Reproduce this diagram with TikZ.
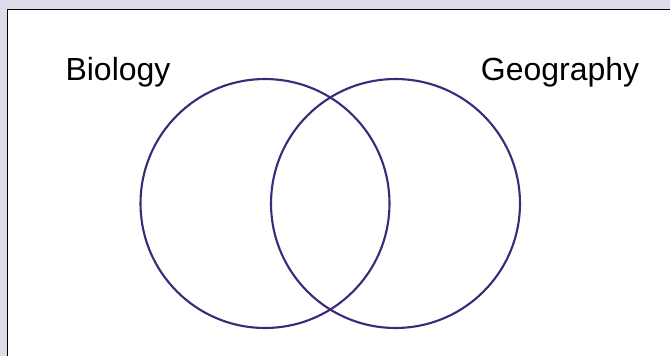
\documentclass[tikz,border=0pt]{standalone}
\usepackage{fontspec}
\setmainfont{Liberation Sans}
\usetikzlibrary{positioning}
\definecolor{vennpurple}{RGB}{62,40,122}
\definecolor{slidebg}{RGB}{224,219,235}

\begin{document}
\begin{tikzpicture}[
    x=0.02cm, y=-0.02cm,
    set/.style={draw=vennpurple, line width=1.2pt, circle, minimum size=4.98cm, inner sep=0pt},
    setlabel/.style={font=\fontsize{18.2}{22}\selectfont, anchor=base}
]
\useasboundingbox (0,0) rectangle (670,356);
% slide background and frame
\fill[slidebg] (0,0) rectangle (670,356);
\fill[white] (7.5,9.5) rectangle (670,356);
\draw[line width=0.9pt] (7.5,356) -- (7.5,9.5) -- (670,9.5);
% the two sets
\node[set] (Bio) at (265,203.5) {};
\node[set] (Geo) at (395.5,203.5) {};
\node[setlabel] (BioLabel) at (118,80) {Biology};
\node[setlabel] (GeoLabel) at (560,80) {Geography};
\end{tikzpicture}
\end{document}
